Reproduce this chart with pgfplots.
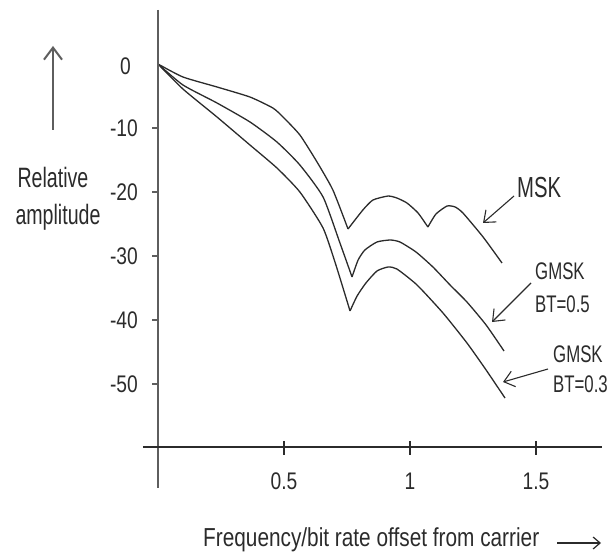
\documentclass[border=0pt]{standalone}
\usepackage{pgfplots}
\pgfplotsset{compat=1.18}
\usetikzlibrary{arrows.meta}
\usepackage{fontspec}
\setmainfont{Liberation Sans}
\newfontfamily\fA{Liberation Sans}[FakeStretch=0.7]
\newfontfamily\fB{Liberation Sans}[FakeStretch=0.8]
\definecolor{ink}{HTML}{2B2B2B}
\definecolor{axisgray}{HTML}{5E5E5E}

\begin{document}
\begin{tikzpicture}
\begin{axis}[hide axis, x=252pt, y=6.4pt,
  xmin=-0.626984, xmax=1.797619, ymin=-76.09375, ymax=10, clip=false]
% MSK
\addplot[ink, line width=1.3pt, smooth, tension=0.35] coordinates {
(0,0) (0.099,-2.03) (0.234,-3.59) (0.365,-5.16) (0.456,-6.88) (0.496,-8.28)
(0.563,-11.09) (0.631,-15.31) (0.694,-19.69) (0.754,-25.78)};
\addplot[ink, line width=1.3pt, smooth, tension=0.35] coordinates {
(0.754,-25.78) (0.813,-22.81) (0.853,-21.25) (0.913,-20.63) (0.948,-20.94)
(0.988,-21.72) (1.032,-23.28) (1.071,-25.47)};
\addplot[ink, line width=1.3pt, smooth, tension=0.35] coordinates {
(1.071,-25.47) (1.103,-23.44) (1.147,-22.19) (1.179,-22.34) (1.210,-23.28)
(1.290,-27.03) (1.365,-31.09)};
% GMSK BT=0.5
\addplot[ink, line width=1.3pt, smooth, tension=0.35] coordinates {
(0,0) (0.099,-3.28) (0.234,-6.09) (0.365,-9.06) (0.472,-12.19) (0.563,-15.78)
(0.655,-20.78) (0.722,-27.97) (0.770,-33.28)};
\addplot[ink, line width=1.3pt, smooth, tension=0.35] coordinates {
(0.770,-33.28) (0.794,-30.63) (0.821,-29.06) (0.869,-27.81) (0.921,-27.5)
(0.960,-27.81) (1.024,-29.38) (1.091,-31.72) (1.159,-34.53) (1.226,-37.19)
(1.302,-40.78) (1.373,-44.84)};
% GMSK BT=0.3
\addplot[ink, line width=1.3pt, smooth, tension=0.35] coordinates {
(0,0) (0.099,-3.91) (0.234,-8.28) (0.365,-12.66) (0.472,-16.25) (0.563,-20)
(0.655,-25.63) (0.706,-31.41) (0.762,-38.59)};
\addplot[ink, line width=1.3pt, smooth, tension=0.35] coordinates {
(0.762,-38.59) (0.790,-36.25) (0.825,-34.22) (0.869,-32.34) (0.913,-31.72)
(0.948,-32.03) (1.028,-34.53) (1.131,-38.91) (1.226,-43.59) (1.302,-47.81)
(1.377,-52.19)};
% axes
\draw[axisgray, line width=2pt] (axis cs:0,8.44) -- (axis cs:0,-66.25);
\draw[ink, line width=1.5pt] (axis cs:-0.06,-59.84) -- (axis cs:1.762,-59.84);
\pgfplotsinvokeforeach{-10,-20,-30,-40,-50}{
  \draw[axisgray, line width=1.5pt] (axis cs:0,#1) -- ++(-6pt,0pt);
  \node[anchor=east, inner sep=0pt, text=ink, font=\fB\fontsize{24}{26}\selectfont]
     at (axis cs:0,#1) [xshift=-20pt] {#1};
}
\node[anchor=east, inner sep=0pt, text=ink, font=\fB\fontsize{24}{26}\selectfont]
     at (axis cs:0,-0.4) [xshift=-27pt] {0};
\pgfplotsinvokeforeach{0.5,1,1.5}{
  \draw[ink, line width=1.3pt] (axis cs:#1,-58.9) -- (axis cs:#1,-61.1);
  \node[anchor=base, inner sep=0pt, text=ink, font=\fB\fontsize{24}{26}\selectfont]
     at (axis cs:#1,-66.56) {#1};
}
\end{axis}
\begin{scope}[x=1pt,y=-1pt,shift={(0pt,551pt)}]
\path (0,0) rectangle (611,551);
% arrows
\draw[axisgray, line width=2pt, -{Straight Barb[length=12pt,width=18pt]}] (53,130) -- (53,46);
\draw[ink, line width=1.1pt, -{Straight Barb[length=10pt,width=16pt]}] (514,196) -- (483,223);
\draw[ink, line width=1.1pt, -{Straight Barb[length=10pt,width=16pt]}] (531,283) -- (492,322);
\draw[ink, line width=1.1pt, -{Straight Barb[length=10pt,width=16pt]}] (548,369) -- (503,382);
\draw[ink, line width=1.2pt, -{Straight Barb[length=7pt,width=12pt]}] (557,543) -- (601,543);
% texts
\node[anchor=base, inner sep=0pt, text=ink, font=\fA\fontsize{28}{30}\selectfont] at (53,188) {Relative};
\node[anchor=base, inner sep=0pt, text=ink, font=\fA\fontsize{28}{30}\selectfont] at (58,225) {amplitude};
\node[anchor=base west, inner sep=0pt, text=ink, font=\fA\fontsize{29}{31}\selectfont] at (517,198) {MSK};
\node[anchor=base west, inner sep=0pt, text=ink, font=\fA\fontsize{24}{26}\selectfont] at (535,280) {GMSK};
\node[anchor=base west, inner sep=0pt, text=ink, font=\fA\fontsize{24}{26}\selectfont] at (535,313) {BT=0.5};
\node[anchor=base west, inner sep=0pt, text=ink, font=\fA\fontsize{24}{26}\selectfont] at (553,362) {GMSK};
\node[anchor=base west, inner sep=0pt, text=ink, font=\fA\fontsize{24}{26}\selectfont] at (553,392) {BT=0.3};
\node[anchor=base west, inner sep=0pt, text=ink, font=\fB\fontsize{26}{28}\selectfont] at (203,546) {Frequency/bit rate offset from carrier};
\end{scope}
\end{tikzpicture}
\end{document}
